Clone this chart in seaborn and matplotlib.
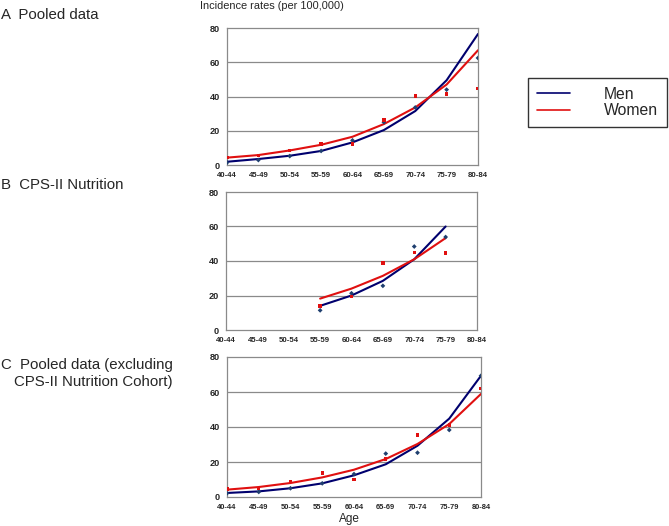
import pandas as pd
import matplotlib
matplotlib.use("Agg")
import matplotlib.pyplot as plt
import seaborn as sns
from matplotlib.lines import Line2D

sns.set_style("white")
plt.rcParams["font.family"] = ["Liberation Sans", "DejaVu Sans"]

ages = ["40-44", "45-49", "50-54", "55-59", "60-64", "65-69", "70-74", "75-79", "80-84"]

# A  Pooled data
a_men_obs = [1.4, 2.9, 5.2, 8.2, 14.4, 25.0, 33.6, 44.0, 62.5]
a_men_fit = [1.9, 3.5, 5.4, 8.2, 13.2, 20.4, 31.5, 49.5, 76.5]
a_women_obs = [4.5, 5.4, 8.5, 12.2, 12.2, 26.3, 40.4, 41.5, 44.5]
a_women_fit = [4.3, 5.8, 8.5, 11.8, 16.5, 23.9, 33.6, 47.0, 67.0]

# B  CPS-II Nutrition (55-59 to 75-79)
b_ages = ["55-59", "60-64", "65-69", "70-74", "75-79"]
b_men_obs = [11.4, 21.3, 25.6, 48.4, 53.9]
b_men_fit = [14.0, 20.0, 28.5, 41.0, 60.0]
b_women_obs = [14.0, 19.4, 38.8, 45.0, 44.6]
b_women_fit = [18.2, 24.0, 31.4, 41.0, 53.3]

# C  Pooled data excluding CPS-II Nutrition Cohort
c_men_obs = [2.1, 2.9, 5.0, 7.8, 13.1, 24.8, 25.3, 38.3, 69.3]
c_men_fit = [2.3, 3.2, 5.0, 7.8, 12.4, 18.7, 29.3, 44.8, 69.3]
c_women_obs = [4.6, 5.0, 8.8, 13.7, 10.1, 21.7, 35.4, 41.1, 61.9]
c_women_fit = [4.2, 5.7, 8.0, 11.2, 15.6, 21.7, 30.3, 41.7, 58.9]

MEN = "#00006e"
MEN_DOT = "#1f3f6f"
WOMEN = "#e01010"
GRID = "#8a8a8a"


def make_df(cats, men_obs, men_fit, women_obs, women_fit):
    pos = [ages.index(c) for c in cats]
    rows = []
    for i, p in enumerate(pos):
        rows.append({"x": p, "sex": "Men", "obs": men_obs[i], "fit": men_fit[i]})
        rows.append({"x": p, "sex": "Women", "obs": women_obs[i], "fit": women_fit[i]})
    return pd.DataFrame(rows)


def draw(ax, df, small_ticks=False):
    pal = {"Men": MEN, "Women": WOMEN}
    sns.lineplot(data=df, x="x", y="fit", hue="sex", palette=pal, lw=1.5,
                 legend=False, ax=ax, zorder=3)
    sns.scatterplot(data=df, x="x", y="obs", hue="sex",
                    palette={"Men": MEN_DOT, "Women": WOMEN},
                    style="sex", markers={"Men": "D", "Women": "s"},
                    s=6, linewidth=0, legend=False, ax=ax, zorder=4)
    ax.set_xlim(0, 8)
    ax.set_ylim(0, 80)
    ax.set_yticks([0, 20, 40, 60, 80])
    ax.set_xticks(range(len(ages)))
    ax.set_xticklabels(ages)
    ax.set_xlabel("")
    ax.set_ylabel("")
    for y in [20, 40, 60]:
        ax.axhline(y, color=GRID, lw=0.9, zorder=1)
    for s in ax.spines.values():
        s.set_color(GRID)
        s.set_linewidth(0.9)
    ax.tick_params(axis="x", length=3, color=GRID, pad=2,
                   labelsize=5.4 if small_ticks else 5.7)
    ax.tick_params(axis="y", length=3, color=GRID, pad=2, labelsize=6.6)
    for lab in ax.get_xticklabels() + ax.get_yticklabels():
        lab.set_fontweight("bold")


fig = plt.figure(figsize=(6.69, 5.26), dpi=100)
W, H = 669, 526


def axes_px(x0, y0, x1, y1):
    return fig.add_axes([x0 / W, 1 - y1 / H, (x1 - x0) / W, (y1 - y0) / H])


axA = axes_px(227, 28, 478, 165)
axB = axes_px(226, 192, 477, 330)
axC = axes_px(227, 357, 481, 497)

draw(axA, make_df(ages, a_men_obs, a_men_fit, a_women_obs, a_women_fit))
draw(axB, make_df(b_ages, b_men_obs, b_men_fit, b_women_obs, b_women_fit))
draw(axC, make_df(ages, c_men_obs, c_men_fit, c_women_obs, c_women_fit), small_ticks=True)

fig.text(1 / W, 1 - 15 / H, "A  Pooled data", fontsize=10.8, va="center")
fig.text(1 / W, 1 - 185 / H, "B  CPS-II Nutrition", fontsize=10.8, va="center")
fig.text(1 / W, 1 - 365 / H, "C  Pooled data (excluding", fontsize=10.8, va="center")
fig.text(14 / W, 1 - 382 / H, "CPS-II Nutrition Cohort)", fontsize=10.8, va="center")
fig.text(200 / W, 1 - 6 / H, "Incidence rates (per 100,000)", fontsize=7.9, va="center")
fig.text(349 / W, 1 - 519 / H, "Age", fontsize=8.5, ha="center", va="center")

handles = [Line2D([], [], color=MEN, lw=1.2), Line2D([], [], color=WOMEN, lw=1.2)]
leg = fig.legend(handles, ["Men", "Women"], loc="upper left",
                 bbox_to_anchor=(528 / W, 1 - 78 / H), frameon=True,
                 fancybox=False, edgecolor="black", fontsize=11.3,
                 handlelength=2.15, handletextpad=2.15, borderpad=0.55,
                 labelspacing=0.1, borderaxespad=0)
leg.get_frame().set_linewidth(1.0)

fig.savefig("out.png", dpi=100)
